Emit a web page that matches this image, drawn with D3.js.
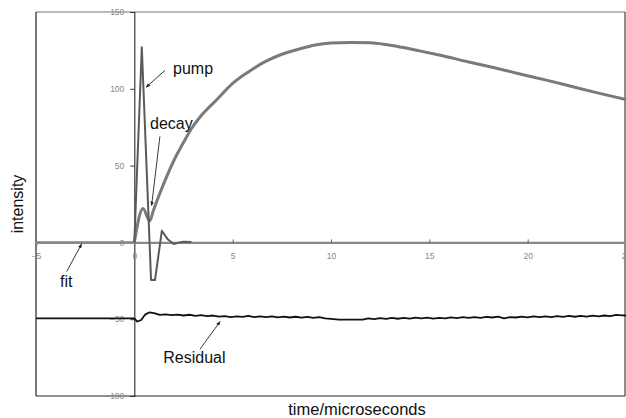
<!DOCTYPE html>
<html><head><meta charset="utf-8">
<script src="https://cdn.jsdelivr.net/npm/d3@7"></script>
<style>body{margin:0;background:#fff}svg{display:block}</style>
</head><body>
<svg id="c" width="626" height="418"></svg>
<script>
// ---- data ----
const xTicks = [-5, 0, 5, 10, 15, 20, 25];
const yTicks = [-100, -50, 0, 50, 100, 150];
const fitPts = [[-5, 0], [0, 0]];
const pumpPts = [[0,0],[0.38,127],[0.85,-24.5],[1.05,-24.5],[1.4,7.6],[1.7,2],[2.0,-1],[2.3,0],[2.5,0.5],[2.9,0.3]];
const decayPts = [[0,0],[0.44,22],[0.78,14],[0.96,20.5],[1.3,32],[1.65,43],[2.0,53],[2.5,65],[2.9,74],[3.3,81],[4.2,93],[5.0,103.5],[5.8,111],[6.7,118],[7.5,122.5],[8.4,126],[9.2,128.5],[10.0,129.8],[11.0,130.2],[12.0,130],[12.8,128.8],[13.6,127],[14.5,124.7],[15.5,122],[17,117.5],[18.2,114],[19.5,110],[21,105.5],[22.1,102],[23.5,97.5],[25,93]];
const residPts = [[-5,-49.5],[0,-49.5],[0.15,-51.5],[0.35,-50.5],[0.55,-47],[0.75,-45.6],[1.0,-46],[1.3,-47.2],[1.6,-46.8],[1.9,-47.4],[2.2,-47],[2.5,-47.6],[2.8,-47.1],[3.1,-47.8],[3.4,-47.3],[3.7,-48],[4.0,-47.6],[4.3,-48.3],[4.6,-48],[4.9,-48.6],[5.2,-48.2],[5.5,-48.5],[5.8,-47.9],[6.1,-48.6],[6.4,-48.1],[6.7,-48.7],[7.0,-48.2],[7.3,-48.8],[7.6,-48.3],[7.9,-48.9],[8.2,-48.4],[8.5,-49],[8.8,-48.5],[9.1,-49.2],[9.4,-48.7],[9.7,-49.5],[10.0,-49.8],[10.4,-50.3],[11.6,-50.3],[11.9,-49.5],[12.2,-49.9],[12.5,-49.3],[12.8,-49.8],[13.1,-49.2],[13.4,-49.7],[13.7,-49.1],[14.0,-49.6],[14.3,-49],[14.6,-49.5],[14.9,-49],[15.2,-49.6],[15.5,-49.1],[15.8,-49.4],[16.1,-48.8],[16.4,-49.3],[16.7,-48.7],[17.0,-49.2],[17.3,-48.6],[17.6,-49.1],[17.9,-48.5],[18.2,-48.9],[18.5,-48.3],[18.8,-49.4],[19.1,-48.6],[19.4,-48.9],[19.7,-48.3],[20.0,-48.8],[20.3,-48.2],[20.6,-48.7],[20.9,-48.1],[21.2,-48.6],[21.5,-48],[21.8,-48.5],[22.1,-47.9],[22.4,-48.4],[22.7,-47.8],[23.0,-48.3],[23.3,-47.7],[23.6,-48.2],[23.9,-47.6],[24.2,-48],[24.5,-47.2],[24.8,-47.5],[25,-47.6]];
// annotations: label, text anchor (data), arrow from -> to (data)
const notes = [
  {label:"pump", tx:1.97, ty:109.5, from:[1.56,112], to:[0.6,101]},
  {label:"decay", tx:0.8, ty:73.6, from:[1.3,69], to:[0.88,24]},
  {label:"fit", tx:-3.78, ty:-29, from:[-3.44,-19], to:[-2.68,-1]},
  {label:"Residual", tx:1.47, ty:-78.5, from:[3.34,-69.5], to:[4.36,-51.5]}
];

// ---- chart ----
const svg = d3.select("#c");
const L = 36, R = 625, T = 12, B = 396;
const x = d3.scaleLinear().domain([-5, 25]).range([L, R + 1]);
const y = d3.scaleLinear().domain([-100, 150]).range([B, T]);
const FONT = "Liberation Sans, Arial, Helvetica";

svg.append("defs").append("marker").attr("id","ah").attr("viewBox","0 0 10 10")
  .attr("refX",9).attr("refY",5).attr("markerWidth",5).attr("markerHeight",5)
  .attr("orient","auto").append("path").attr("d","M0,1 L10,5 L0,9 z").attr("fill","#222");

// frame
svg.append("line").attr("x1",L).attr("x2",R).attr("y1",T).attr("y2",T).attr("stroke","#777").attr("stroke-width",1.2);
svg.append("line").attr("x1",L).attr("x2",R).attr("y1",B).attr("y2",B).attr("stroke","#222").attr("stroke-width",1.2);
svg.append("line").attr("x1",L).attr("x2",L).attr("y1",T).attr("y2",B).attr("stroke","#222").attr("stroke-width",1.2);
svg.append("line").attr("x1",R).attr("x2",R).attr("y1",T).attr("y2",B).attr("stroke","#444").attr("stroke-width",1.2);

// y axis at x=0
const yAx = svg.append("g").attr("transform",`translate(${x(0)},0)`)
  .call(d3.axisLeft(y).tickValues(yTicks).tickSize(4).tickPadding(6).tickFormat(d3.format("d")));
yAx.select(".domain").attr("stroke","#111").attr("stroke-width",1);
yAx.selectAll(".tick line").attr("stroke","#333");
yAx.selectAll("text").attr("fill","#888").style("font-family",FONT).style("font-size","8.5px");

// x axis at y=0
const xAx = svg.append("g").attr("transform",`translate(0,${y(0)})`)
  .call(d3.axisBottom(x).tickValues(xTicks).tickSize(3).tickPadding(8).tickFormat(d3.format("d")));
xAx.select(".domain").attr("stroke","#888").attr("stroke-width",2.2);
xAx.selectAll(".tick line").attr("stroke","#666").attr("y1",-3).attr("y2",1);
xAx.selectAll("text").attr("fill","#888").style("font-family",FONT).style("font-size","8.5px");

const line = d3.line().x(d => x(d[0])).y(d => y(d[1]));
svg.append("path").datum(fitPts).attr("d",line).attr("fill","none").attr("stroke","#888").attr("stroke-width",2.2);
svg.append("path").datum(residPts).attr("d",line).attr("fill","none").attr("stroke","#111").attr("stroke-width",1.8).attr("stroke-linejoin","round");
svg.append("path").datum(decayPts).attr("d",d3.line().x(d=>x(d[0])).y(d=>y(d[1])).curve(d3.curveMonotoneX))
  .attr("fill","none").attr("stroke","#7a7a7a").attr("stroke-width",3).attr("stroke-linejoin","round");
svg.append("path").datum(pumpPts).attr("d",line).attr("fill","none").attr("stroke","#5a5a5a").attr("stroke-width",2).attr("stroke-linejoin","round");

// annotations
notes.forEach(n => {
  svg.append("line").attr("x1",x(n.from[0])).attr("y1",y(n.from[1])).attr("x2",x(n.to[0])).attr("y2",y(n.to[1]))
    .attr("stroke","#222").attr("stroke-width",0.9).attr("marker-end","url(#ah)");
  svg.append("text").attr("x",x(n.tx)).attr("y",y(n.ty)).text(n.label)
    .style("font-family",FONT).style("font-size","16px").attr("fill","#111");
});

// axis titles
svg.append("text").attr("transform",`translate(23,204) rotate(-90)`).attr("text-anchor","middle")
  .style("font-family",FONT).style("font-size","16px").attr("fill","#111").text("intensity");
svg.append("text").attr("x",357).attr("y",415).attr("text-anchor","middle")
  .style("font-family",FONT).style("font-size","16.5px").attr("fill","#111").text("time/microseconds");
</script>
</body></html>
